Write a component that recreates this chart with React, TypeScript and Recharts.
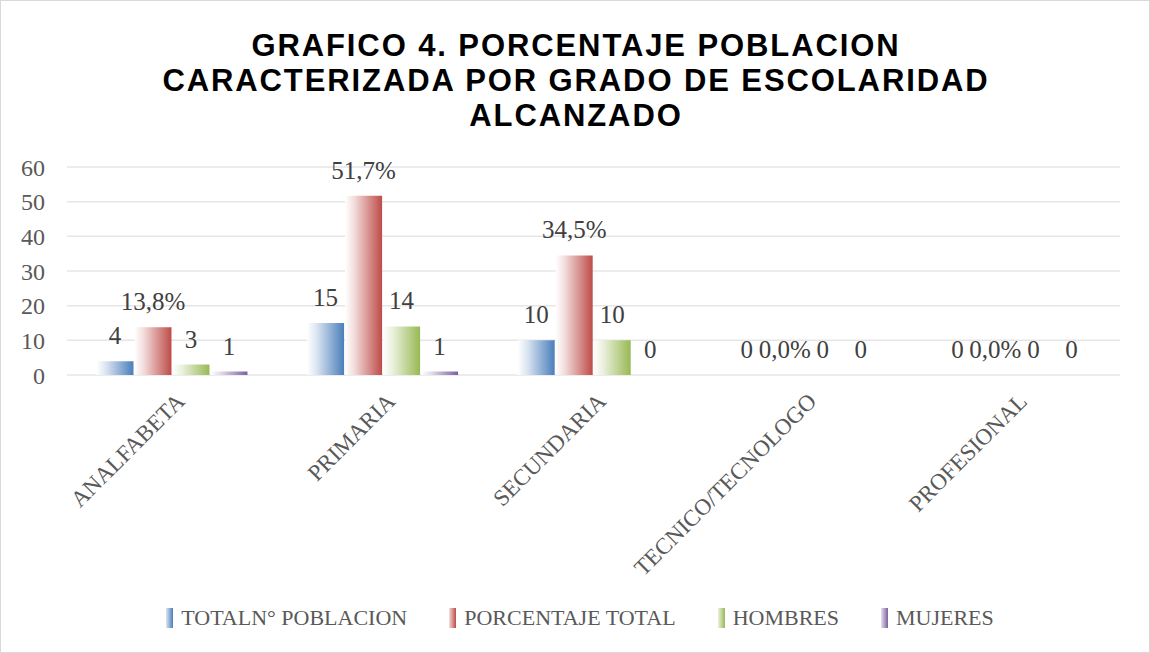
import React from 'react';
import { BarChart, Bar, XAxis, YAxis, CartesianGrid, LabelList, Legend } from 'recharts';

const categories = ['ANALFABETA', 'PRIMARIA', 'SECUNDARIA', 'TECNICO/TECNOLOGO', 'PROFESIONAL'];
const totalPoblacion = [4, 15, 10, 0, 0];
const porcentajeTotal = [13.8, 51.7, 34.5, 0, 0];
const hombres = [3, 14, 10, 0, 0];
const mujeres = [1, 1, 0, 0, 0];
const yTicks = [0, 10, 20, 30, 40, 50, 60];

const seriesDefs = [
  { key: 'total', name: 'TOTALN° POBLACION', color: '#4A7EBB', light: '#DCE6F2' },
  { key: 'pct', name: 'PORCENTAJE TOTAL', color: '#BE4B48', light: '#F2DCDB' },
  { key: 'hom', name: 'HOMBRES', color: '#98B954', light: '#EBF1DE' },
  { key: 'muj', name: 'MUJERES', color: '#7D60A0', light: '#E5E0EC' },
];

const data = categories.map((c, i) => ({
  name: c,
  total: totalPoblacion[i],
  pct: porcentajeTotal[i],
  hom: hombres[i],
  muj: mujeres[i],
}));

const SERIF = '"Liberation Serif", "DejaVu Serif", serif';
const TEXT = '#595959';

const CatTick = (props: any) => {
  const { x, y, payload } = props;
  return (
    <g transform={`translate(${x + 8},${y + 14})`}>
      <text
        textAnchor="end"
        transform="rotate(-45)"
        fontFamily={SERIF}
        fontSize={23}
        fill={TEXT}
        dy="0.35em"
      >
        {payload.value}
      </text>
    </g>
  );
};

const LegendContent = () => (
  <div style={{ height: 50, display: 'flex', justifyContent: 'center', alignItems: 'flex-start', paddingLeft: 40 }}>
    {seriesDefs.map((s, i) => (
      <div
        key={s.key}
        style={{ display: 'flex', alignItems: 'center', marginRight: i === seriesDefs.length - 1 ? 0 : 42, height: 30 }}
      >
        <div
          style={{
            width: 7,
            height: 20,
            background: `linear-gradient(to right, ${s.light}, ${s.color})`,
            marginRight: 8,
          }}
        />
        <span style={{ fontFamily: SERIF, fontSize: 22, color: TEXT, lineHeight: '30px' }}>{s.name}</span>
      </div>
    ))}
  </div>
);

const pctFormatter = (v: any) => `${Number(v).toFixed(1).replace('.', ',')}%`;

export default function App() {
  return (
    <div
      style={{
        position: 'absolute',
        left: 0,
        top: 0,
        width: 1150,
        height: 653,
        background: '#fff',
        boxSizing: 'border-box',
        border: '1px solid #D9D9D9',
      }}
    >
      <div
        style={{
          position: 'absolute',
          top: 27,
          left: 0,
          width: 1150,
          textAlign: 'center',
          fontFamily: '"Liberation Sans", Arial, sans-serif',
          fontWeight: 'bold',
          fontSize: 31,
          lineHeight: '35px',
          color: '#000',
          letterSpacing: 1.9,
        }}
      >
        GRAFICO 4. PORCENTAJE POBLACION
        <br />
        CARACTERIZADA POR GRADO DE ESCOLARIDAD
        <br />
        ALCANZADO
      </div>
      <div style={{ position: 'absolute', left: -1, top: -1 }}>
        <BarChart
          width={1150}
          height={653}
          data={data}
          margin={{ top: 167, right: 30, bottom: 0, left: 0 }}
          barCategoryGap="14%"
          barGap={1}
        >
          <defs>
            {seriesDefs.map((s) => (
              <linearGradient key={s.key} id={`g-${s.key}`} x1="0" y1="0" x2="1" y2="0">
                <stop offset="0%" stopColor="#ffffff" />
                <stop offset="25%" stopColor={s.light} />
                <stop offset="100%" stopColor={s.color} />
              </linearGradient>
            ))}
          </defs>
          <CartesianGrid vertical={false} stroke="#E6E6E6" strokeWidth={1.5} />
          <XAxis
            dataKey="name"
            axisLine={false}
            tickLine={false}
            interval={0}
            height={228}
            tick={<CatTick />}
          />
          <YAxis
            domain={[0, 60]}
            ticks={yTicks}
            axisLine={false}
            tickLine={false}
            width={67}
            tickMargin={16}
            tick={{ fontFamily: SERIF, fontSize: 24, fill: TEXT }}
          />
          <Legend verticalAlign="bottom" content={<LegendContent />} />
          {seriesDefs.map((s) => (
            <Bar
              key={s.key}
              dataKey={s.key}
              name={s.name}
              fill={`url(#g-${s.key})`}
              minPointSize={0.01}
              isAnimationActive={false}
            >
              <LabelList
                dataKey={s.key}
                position="top"
                offset={17}
                fontFamily={SERIF}
                fontSize={25}
                fill="#404040"
                formatter={s.key === 'pct' ? pctFormatter : undefined}
              />
            </Bar>
          ))}
        </BarChart>
      </div>
    </div>
  );
}
